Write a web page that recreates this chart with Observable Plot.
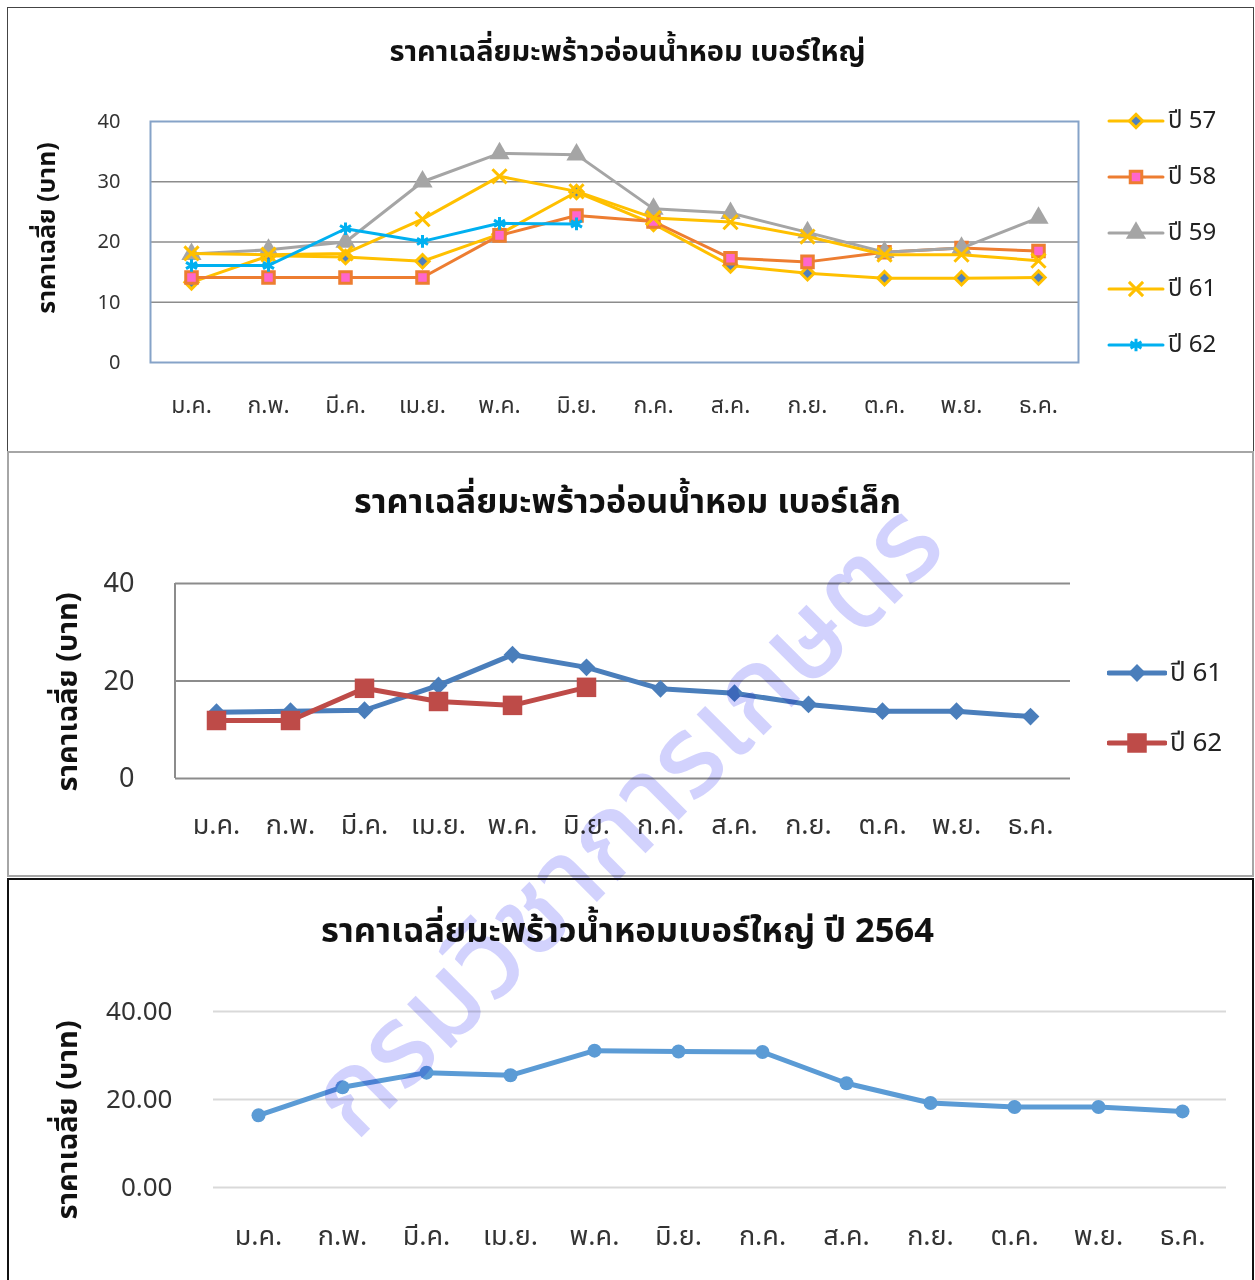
<!DOCTYPE html>
<html>
<head>
<meta charset="utf-8">
<script src="https://cdn.jsdelivr.net/npm/d3@7"></script>
<script src="https://cdn.jsdelivr.net/npm/@observablehq/plot@0.6"></script>
<style>
  body { margin: 0; background: #fff; font-family: "Noto Sans Thai", "Noto Sans", sans-serif; color: #222; }
  #page { position: relative; width: 1255px; height: 1280px; overflow: hidden; background: #fff; }
  .panel { position: absolute; box-sizing: border-box; background: #fff; }
  .title { position: absolute; left: 0; width: 1255px; text-align: center; font-weight: bold; color: #111; white-space: nowrap; line-height: 1.2; }
  .ytitle { position: absolute; font-weight: bold; white-space: nowrap; color: #111; transform: translate(-50%, -50%) rotate(-90deg); }
  .chart { position: absolute; left: 0; }
  .legend { position: absolute; }
  #watermark { position: absolute; left: 628px; top: 822px; transform: translate(-50%, -50%) rotate(-45deg);
    font-size: 113px; font-weight: 500; color: rgba(105, 105, 250, 0.3); white-space: nowrap; pointer-events: none; mix-blend-mode: multiply; }
</style>
</head>
<body>
<div id="page"></div>
<script>
// Months (Thai abbreviations)
const months = ["ม.ค.", "ก.พ.", "มี.ค.", "เม.ย.", "พ.ค.", "มิ.ย.", "ก.ค.", "ส.ค.", "ก.ย.", "ต.ค.", "พ.ย.", "ธ.ค."];

// Large nam-hom young coconut, average price (baht) by year
const big57 = [13.3, 17.7, 17.5, 16.8, 21.3, 28.3, 23.0, 16.1, 14.8, 14.0, 14.0, 14.1];
const big58 = [14.1, 14.1, 14.1, 14.1, 21.1, 24.4, 23.4, 17.3, 16.7, 18.3, 19.0, 18.5];
const big59 = [18.0, 18.7, 20.0, 30.0, 34.7, 34.5, 25.5, 24.8, 21.6, 18.3, 19.0, 24.0];
const big61 = [18.1, 17.9, 18.1, 23.8, 30.9, 28.4, 24.0, 23.3, 20.9, 17.9, 17.9, 16.9];
const big62 = [16.1, 16.1, 22.2, 20.1, 23.1, 23.0];

// Small nam-hom young coconut
const small61 = [13.6, 13.8, 14.0, 19.1, 25.4, 22.8, 18.4, 17.5, 15.2, 13.8, 13.8, 12.7];
const small62 = [11.9, 11.9, 18.5, 15.8, 15.0, 18.7];

// Large nam-hom coconut, 2564
const big2564 = [16.4, 22.8, 26.1, 25.5, 31.1, 30.9, 30.8, 23.7, 19.2, 18.3, 18.3, 17.3];

const yTicks1 = [0, 10, 20, 30, 40];
const yTicks2 = [0, 20, 40];
const yTicks3 = [0, 20, 40];

const yLabel = "ราคาเฉลี่ย (บาท)";
const titles = [
  "ราคาเฉลี่ยมะพร้าวอ่อนน้ำหอม เบอร์ใหญ่",
  "ราคาเฉลี่ยมะพร้าวอ่อนน้ำหอม เบอร์เล็ก",
  "ราคาเฉลี่ยมะพร้าวน้ำหอมเบอร์ใหญ่ ปี 2564"
];

// Series styles for the top chart
const series1 = [
  {name: "ปี 57", values: big57, line: "#ffc000", symbol: "diamond2", fill: "#4f81bd", stroke: "#ffc000", sw: 3, r: 6},
  {name: "ปี 58", values: big58, line: "#ed7d31", symbol: "square", fill: "#ff66cc", stroke: "#ed7d31", sw: 3, r: 6.5},
  {name: "ปี 59", values: big59, line: "#a5a5a5", symbol: "triangle", fill: "#a5a5a5", stroke: "none", sw: 0, r: 7.5},
  {name: "ปี 61", values: big61, line: "#ffc000", symbol: "times", fill: "none", stroke: "#ffc000", sw: 3, r: 6.5},
  {name: "ปี 62", values: big62, line: "#00b0f0", symbol: "asterisk", fill: "none", stroke: "#00b0f0", sw: 3, r: 6}
];
const series2 = [
  {name: "ปี 61", values: small61, line: "#4a7ebb", symbol: "diamond2", fill: "#4a7ebb", stroke: "none", sw: 0, r: 8},
  {name: "ปี 62", values: small62, line: "#be4b48", symbol: "square", fill: "#be4b48", stroke: "none", sw: 0, r: 11}
];

const toRows = (s) => s.values.map((v, i) => ({month: months[i], value: v, name: s.name}));
const fontStack = "'Noto Sans Thai','Noto Sans',sans-serif";

const page = document.getElementById("page");

function addPanel(left, top, width, height, border) {
  const d = document.createElement("div");
  d.className = "panel";
  Object.assign(d.style, {left: left + "px", top: top + "px", width: width + "px", height: height + "px", border});
  page.appendChild(d);
}
function addText(cls, text, styles) {
  const d = document.createElement("div");
  d.className = cls;
  d.textContent = text;
  Object.assign(d.style, styles);
  page.appendChild(d);
  return d;
}
function addChart(svg, top) {
  svg.classList.add("chart");
  svg.style.top = top + "px";
  page.appendChild(svg);
}
function seriesMarks(list, lineWidth) {
  const marks = [];
  for (const s of list) {
    const rows = toRows(s);
    marks.push(Plot.line(rows, {x: "month", y: "value", stroke: s.line, strokeWidth: lineWidth, strokeLinejoin: "round"}));
    marks.push(Plot.dot(rows, {x: "month", y: "value", symbol: () => s.symbol, r: s.r, fill: s.fill, stroke: s.stroke, strokeWidth: s.sw}));
  }
  return marks;
}
function addLegend(list, left, tops, opts) {
  list.forEach((s, i) => {
    const box = document.createElement("div");
    box.className = "legend";
    Object.assign(box.style, {left: left + "px", top: (tops[i] - 20) + "px", display: "flex", alignItems: "center"});
    const svg = d3.create("svg").attr("width", opts.lineLen).attr("height", 40);
    svg.append("line").attr("x1", 2).attr("x2", opts.lineLen - 2).attr("y1", 20).attr("y2", 20)
      .attr("stroke", s.line).attr("stroke-width", opts.lineWidth).attr("stroke-linecap", "round");
    const symType = {diamond2: d3.symbolDiamond2, square: d3.symbolSquare, triangle: d3.symbolTriangle, times: d3.symbolTimes, asterisk: d3.symbolAsterisk}[s.symbol];
    svg.append("path").attr("d", d3.symbol(symType, Math.PI * s.r * s.r)())
      .attr("transform", `translate(${opts.lineLen / 2},20)`)
      .attr("fill", s.fill).attr("stroke", s.stroke).attr("stroke-width", s.sw);
    box.appendChild(svg.node());
    const t = document.createElement("span");
    t.textContent = s.name;
    Object.assign(t.style, {fontSize: opts.fontSize + "px", color: "#222", marginLeft: "3px", lineHeight: "40px"});
    box.appendChild(t);
    page.appendChild(box);
  });
}

// Panel frames
addPanel(7, 7, 1247, 445, "1.5px solid #444");
addPanel(7, 451, 1247, 426, "2px solid #a6a6a6");
addPanel(7, 878, 1247, 410, "2.5px solid #111");

// ---------- Top chart: large ----------
const chart1 = Plot.plot({
  width: 1255, height: 440,
  marginLeft: 150, marginRight: 177, marginTop: 121, marginBottom: 78,
  style: {fontFamily: fontStack, fontSize: "23px", color: "#333", background: "transparent", overflow: "visible"},
  x: {type: "point", domain: months, padding: 0.5, label: null, tickSize: 0, tickPadding: 34},
  y: {domain: [0, 40], ticks: yTicks1, label: null, tickSize: 0, tickPadding: 30},
  marks: [
    Plot.axisY({ticks: yTicks1, tickSize: 0, tickPadding: 30, label: null, fontSize: 20}),
    Plot.gridY([10, 20, 30], {stroke: "#8c8c8c", strokeOpacity: 1, strokeWidth: 1.5}),
    Plot.frame({stroke: "#86a3c8", strokeWidth: 2}),
    ...seriesMarks(series1, 3)
  ]
});
addChart(chart1, 0);
addText("title", titles[0], {top: "35px", fontSize: "29px"});
addText("ytitle", yLabel, {left: "47px", top: "228px", fontSize: "25px"});
addLegend(series1, 1107, [121, 177, 233, 289, 345], {lineLen: 58, lineWidth: 3, fontSize: 24});

// ---------- Middle chart: small ----------
const chart2 = Plot.plot({
  width: 1255, height: 424,
  marginLeft: 175, marginRight: 185, marginTop: 131, marginBottom: 98,
  style: {fontFamily: fontStack, fontSize: "27px", color: "#333", background: "transparent", overflow: "visible"},
  x: {type: "point", domain: months, padding: 0.5, label: null, tickSize: 0, tickPadding: 36},
  y: {domain: [0, 40], ticks: yTicks2, label: null, tickSize: 0, tickPadding: 41},
  marks: [
    Plot.gridY(yTicks2, {stroke: "#8c8c8c", strokeOpacity: 1, strokeWidth: 2}),
    ...seriesMarks(series2, 5)
  ]
});
// vertical axis line along the left edge of the plot area
{
  const xr = chart2.scale("x").range, yr = chart2.scale("y").range;
  d3.select(chart2).insert("line", "g[aria-label=line]")
    .attr("x1", xr[0]).attr("x2", xr[0]).attr("y1", yr[0]).attr("y2", yr[1])
    .attr("stroke", "#8c8c8c").attr("stroke-width", 2);
}
addChart(chart2, 452);
addText("title", titles[1], {top: "483px", fontSize: "34px"});
addText("ytitle", yLabel, {left: "68px", top: "692px", fontSize: "29px"});
addLegend(series2, 1107, [673, 743], {lineLen: 60, lineWidth: 5, fontSize: 26});

// ---------- Bottom chart: 2564 ----------
const rows2564 = big2564.map((v, i) => ({month: months[i], value: v}));
const chart3 = Plot.plot({
  width: 1255, height: 400,
  marginLeft: 213, marginRight: 29, marginTop: 132, marginBottom: 92,
  style: {fontFamily: fontStack, fontSize: "27px", color: "#333", background: "transparent", overflow: "visible"},
  x: {type: "point", domain: months, padding: 0.5, label: null, tickSize: 0, tickPadding: 38},
  y: {domain: [0, 40], ticks: yTicks3, tickFormat: d3.format(".2f"), label: null, tickSize: 0, tickPadding: 41},
  marks: [
    Plot.axisY({ticks: yTicks3, tickFormat: d3.format(".2f"), tickSize: 0, tickPadding: 41, label: null, fontSize: 26}),
    Plot.gridY(yTicks3, {stroke: "#d9d9d9", strokeOpacity: 1, strokeWidth: 2}),
    Plot.line(rows2564, {x: "month", y: "value", stroke: "#5b9bd5", strokeWidth: 5, strokeLinejoin: "round"}),
    Plot.dot(rows2564, {x: "month", y: "value", r: 7, fill: "#5b9bd5"})
  ]
});
addChart(chart3, 879);
addText("title", titles[2], {top: "911px", fontSize: "34.5px"});
addText("ytitle", yLabel, {left: "68px", top: "1120px", fontSize: "29px"});

// Department watermark
addText("", "กรมวิชาการเกษตร", {}).id = "watermark";
</script>
</body>
</html>
